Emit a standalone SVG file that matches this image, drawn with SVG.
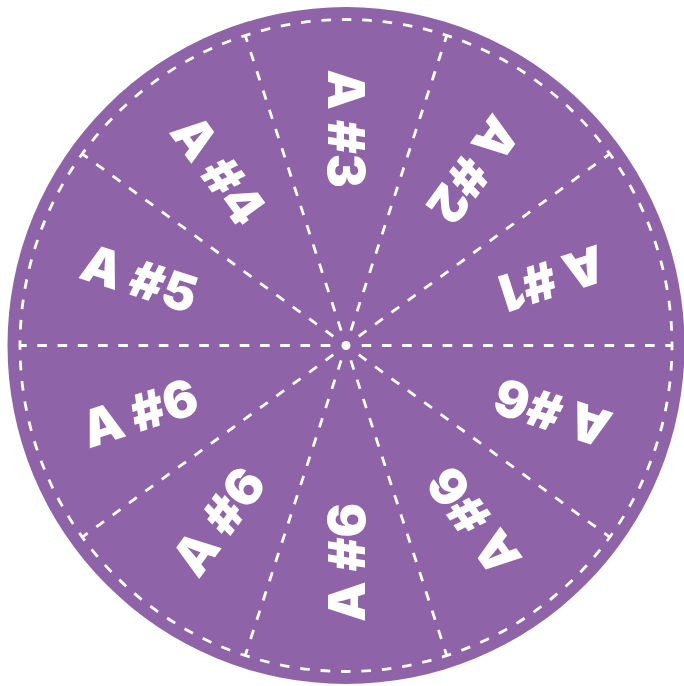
<svg xmlns="http://www.w3.org/2000/svg" width="684" height="686" viewBox="0 0 684 686">
<defs>
<style>
.disc{fill:#8f63a8}
.ring{fill:none;stroke:#fff;stroke-width:2.8;stroke-dasharray:9.6 10.8832;stroke-dashoffset:4.8}
.spoke{stroke:#fff;stroke-width:2.8;stroke-dasharray:9.6 10.64;fill:none}
.lbl{font-family:Inter,"Liberation Sans",sans-serif;font-weight:900;font-size:51px;fill:#fff;text-anchor:middle}
</style>
<line id="sp" class="spoke" x1="361.7" y1="345.5" x2="672" y2="345.5"/>
</defs>
<rect width="684" height="686" fill="#fff"/>
<g id="wheel">
<circle class="disc" cx="346" cy="345.5" r="338.5"/>
<circle class="ring" cx="346" cy="345.5" r="326"/>
</g>
<g id="connectors">
<use href="#sp"/>
<use href="#sp" transform="rotate(-36 346 345.5)"/>
<use href="#sp" transform="rotate(-72 346 345.5)"/>
<use href="#sp" transform="rotate(-108 346 345.5)"/>
<use href="#sp" transform="rotate(-144 346 345.5)"/>
<use href="#sp" transform="rotate(-180 346 345.5)"/>
<use href="#sp" transform="rotate(-216 346 345.5)"/>
<use href="#sp" transform="rotate(-252 346 345.5)"/>
<use href="#sp" transform="rotate(-288 346 345.5)"/>
<use href="#sp" transform="rotate(-324 346 345.5)"/>
<circle cx="346" cy="345.5" r="4.5" fill="#fff"/>
</g>
<g id="s3" transform="translate(346 128.5) rotate(90)"><text class="lbl" y="18.5">A #3</text></g>
<g id="s2" transform="translate(473.5 169.9) rotate(126)"><text class="lbl" y="18.5">A #2</text></g>
<g id="s1" transform="translate(552.4 278.4) rotate(162)"><text class="lbl" y="18.5">A #1</text></g>
<g id="s6a" transform="translate(552.4 412.6) rotate(198)"><text class="lbl" y="18.5">A #6</text></g>
<g id="s6b" transform="translate(473.5 521.1) rotate(234)"><text class="lbl" y="18.5">A #6</text></g>
<g id="s6c" transform="translate(346 562.5) rotate(270)"><text class="lbl" y="18.5">A #6</text></g>
<g id="s6d" transform="translate(218.5 521.1) rotate(-54)"><text class="lbl" y="18.5">A #6</text></g>
<g id="s6e" transform="translate(139.6 412.6) rotate(-18)"><text class="lbl" y="18.5">A #6</text></g>
<g id="s5" transform="translate(139.6 278.4) rotate(18)"><text class="lbl" y="18.5">A #5</text></g>
<g id="s4" transform="translate(218.5 169.9) rotate(54)"><text class="lbl" y="18.5">A #4</text></g>
</svg>
